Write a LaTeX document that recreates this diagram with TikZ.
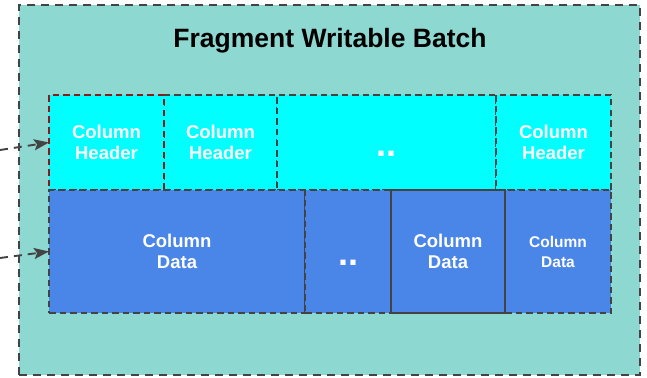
\documentclass[tikz,border=0pt]{standalone}
\usepackage{fontspec}
\setmainfont{Liberation Sans}
\usetikzlibrary{arrows.meta}

\definecolor{batchfill}{HTML}{8ED8D2}
\definecolor{headfill}{HTML}{00FFFF}
\definecolor{datafill}{HTML}{4A86E8}
\definecolor{edge}{HTML}{434343}
\definecolor{firstedge}{HTML}{8B1A1A}

\tikzset{
  cellbox/.style={rectangle, anchor=north west, inner sep=0pt, outer sep=0pt,
    draw=edge, line width=1.9pt, dash pattern=on 6.5pt off 4pt,
    text=white, align=center,
    font=\fontsize{18.5}{21}\selectfont\bfseries},
  headcell/.style={cellbox, fill=headfill, minimum height=95pt},
  datacell/.style={cellbox, fill=datafill, minimum height=123pt},
  solidcell/.style={solid},
  smalltext/.style={font=\fontsize{15.5}{20}\selectfont\bfseries},
  dots/.style={text=white, inner sep=0pt, font=\fontsize{36}{36}\selectfont\bfseries},
  feed/.style={draw=edge, line width=1.9pt, dash pattern=on 8pt off 6pt,
    -{Stealth[length=15pt,width=11pt,inset=3pt,sep=0pt]}},
}

\begin{document}
\begin{tikzpicture}[x=1pt, y=-1pt]
  \useasboundingbox (0,0) rectangle (647,377);

  % enclosing batch
  \node[rectangle, anchor=north west, inner sep=0pt, outer sep=0pt,
        minimum width=621pt, minimum height=370pt,
        fill=batchfill, draw=edge, line width=1.9pt,
        dash pattern=on 8pt off 6pt] (batch) at (19,5) {};
  \node[font=\fontsize{26.5}{28}\selectfont\bfseries, text=black, anchor=base]
        (title) at (330,48) {Fragment Writable Batch};

  % column headers
  \node[headcell, minimum width=113pt] (hc2) at (164,95) {Column\\Header};
  \node[headcell, minimum width=219pt] (hc3) at (277,95) {};
  \node[headcell, minimum width=115pt] (hc4) at (496,95) {Column\\Header};
  \node[headcell, minimum width=115pt, draw=firstedge] (hc1) at (49,95) {Column\\Header};
  \node[dots, anchor=base] (hdots) at ([yshift=-14pt]hc3.center) {..};

  % column data
  \node[datacell, minimum width=256pt] (dc1) at (49,190) {Column\\Data};
  \node[datacell, minimum width=86pt] (dc2) at (305,190) {};
  \node[datacell, minimum width=106pt, smalltext] (dc4) at (505,190) {Column\\Data};
  \node[datacell, minimum width=114pt, solidcell] (dc3) at (391,190) {Column\\Data};
  \node[dots, anchor=base] (ddots) at ([yshift=-14pt]dc2.center) {..};

  % incoming references
  \coordinate (in1) at (0,150);
  \coordinate (in2) at (0,258);
  \draw[feed] (in1) -- (hc1.west);
  \draw[feed] (in2) -- (dc1.west);
\end{tikzpicture}
\end{document}
